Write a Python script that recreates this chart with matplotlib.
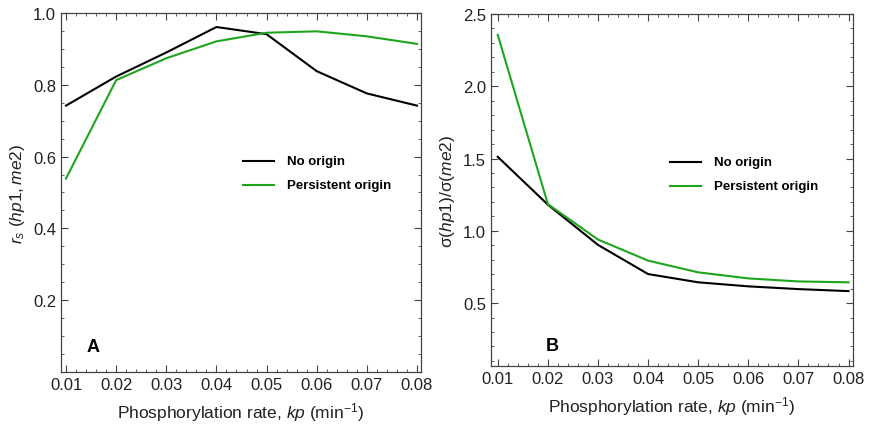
import numpy as np
import matplotlib
matplotlib.use('Agg')
import matplotlib.pyplot as plt
from matplotlib.ticker import MultipleLocator, FixedLocator

plt.rcParams['font.family'] = ['Liberation Sans', 'DejaVu Sans']
plt.rcParams['mathtext.fontset'] = 'custom'
plt.rcParams['mathtext.rm'] = 'Liberation Sans'
plt.rcParams['mathtext.it'] = 'Liberation Sans:italic'

# phosphorylation rates
kp = [0.01, 0.02, 0.03, 0.04, 0.05, 0.06, 0.07, 0.08]

# A: spearman correlation of hp1 and me2
rs_no_origin = [0.742, 0.823, 0.890, 0.961, 0.941, 0.838, 0.776, 0.742]
rs_persistent = [0.539, 0.813, 0.874, 0.921, 0.945, 0.949, 0.935, 0.914]

# B: ratio of standard deviations
sd_no_origin = [1.512, 1.181, 0.903, 0.701, 0.644, 0.616, 0.597, 0.583]
sd_persistent = [2.356, 1.185, 0.940, 0.794, 0.713, 0.671, 0.650, 0.644]

series_names = ['No origin', 'Persistent origin']
colors = ['black', '#1ea51e']

fig = plt.figure(figsize=(8.7, 4.27), dpi=100)
axA = fig.add_axes([0.0701, 0.1265, 0.4138, 0.8407])
axB = fig.add_axes([0.5644, 0.1405, 0.4161, 0.8244])


def style_axes(ax):
    for s in ax.spines.values():
        s.set_color('#444444')
        s.set_linewidth(0.9)
    ax.tick_params(which='both', direction='in', top=True, right=True,
                   color='#444444', labelsize=12, labelcolor='#222222')
    ax.tick_params(which='major', length=5)
    ax.tick_params(which='minor', length=2.5)
    ax.xaxis.set_major_locator(MultipleLocator(0.01))
    ax.xaxis.set_minor_locator(MultipleLocator(0.002))
    ax.set_xlabel('Phosphorylation rate, $kp$ (min$^{-1}$)', fontsize=12.5,
                  color='#222222', labelpad=6)


def draw_legend(ax, x0, y0, dy):
    for i, (name, c) in enumerate(zip(series_names, colors)):
        y = y0 - i * dy
        ax.plot([x0, x0 + 0.085], [y, y], color=c, lw=1.5,
                transform=ax.transAxes)
        ax.text(x0 + 0.122, y, name, transform=ax.transAxes, fontsize=9.5,
                fontweight='bold', va='center', ha='left')


# panel A
axA.plot(kp, rs_no_origin, color=colors[0], lw=1.5)
axA.plot(kp, rs_persistent, color=colors[1], lw=1.5)
axA.set_xlim(0.009, 0.0808)
axA.set_ylim(0.0, 1.0)
style_axes(axA)
axA.yaxis.set_major_locator(FixedLocator([0.2, 0.4, 0.6, 0.8, 1.0]))
axA.yaxis.set_minor_locator(MultipleLocator(0.05))
axA.set_ylabel('$r_s$ ($hp1,me2$)', fontsize=12.5, color='#222222', labelpad=4)
draw_legend(axA, 0.506, 0.588, 0.067)
axA.text(0.072, 0.072, 'A', transform=axA.transAxes, fontsize=13,
         fontweight='bold', va='center')

# panel B
axB.plot(kp, sd_no_origin, color=colors[0], lw=1.5)
axB.plot(kp, sd_persistent, color=colors[1], lw=1.5)
axB.set_xlim(0.00866, 0.0809)
axB.set_ylim(0.065, 2.5)
style_axes(axB)
axB.yaxis.set_major_locator(FixedLocator([0.5, 1.0, 1.5, 2.0, 2.5]))
axB.yaxis.set_minor_locator(MultipleLocator(0.1))
axB.set_ylabel('σ($hp1$)/σ($me2$)', fontsize=12.5, color='#222222', labelpad=4)
draw_legend(axB, 0.494, 0.58, 0.068)
axB.text(0.152, 0.057, 'B', transform=axB.transAxes, fontsize=13,
         fontweight='bold', va='center')

fig.savefig('out.png', dpi=100)
